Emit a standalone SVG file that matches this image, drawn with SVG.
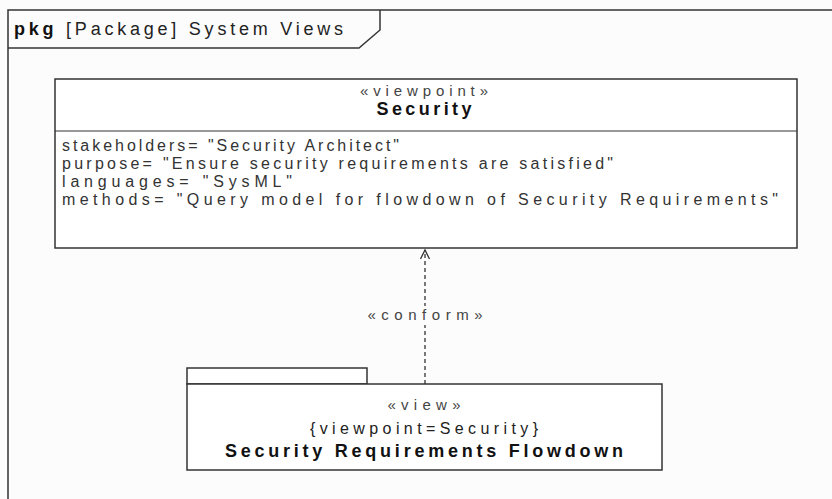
<svg xmlns="http://www.w3.org/2000/svg" width="832" height="499" viewBox="0 0 832 499">
<style>
  text { font-family: "Liberation Sans", Arial, sans-serif; fill: #222; }
  .box { fill: #fff; stroke: #333; stroke-width: 1.5; }
  .st { font-size: 15px; text-anchor: middle; fill: #444; }
  .nm { font-size: 18px; font-weight: bold; text-anchor: middle; fill: #111; }
  .attr { font-size: 16px; fill: #333; }
  .dep { fill: none; stroke: #333; stroke-width: 1.3; stroke-dasharray: 4 3; }
</style>
<defs>
  <marker id="open" markerWidth="12" markerHeight="12" refX="10" refY="5" orient="auto" markerUnits="userSpaceOnUse">
    <path d="M1,0.5 L10,5 L1,9.5" fill="none" stroke="#333" stroke-width="1.3"/>
  </marker>
</defs>
<rect width="832" height="499" fill="#fcfcfc"/>
<g id="frame">
  <rect x="8" y="10" width="840" height="500" fill="none" stroke="#333" stroke-width="1.5"/>
  <path d="M8,48 L359,48 L380,30 L380,10" fill="none" stroke="#333" stroke-width="1.5"/>
  <text x="14" y="35" font-size="18" fill="#555" textLength="329" lengthAdjust="spacing"><tspan font-weight="bold" fill="#111">pkg</tspan> [Package] System Views</text>
</g>
<g id="security">
  <rect class="box" x="55" y="79" width="742" height="169"/>
  <line x1="55" y1="131" x2="797" y2="131" stroke="#333" stroke-width="1.2"/>
  <text class="st" x="424" y="96" textLength="128" lengthAdjust="spacing">«viewpoint»</text>
  <text class="nm" x="424" y="115" textLength="95" lengthAdjust="spacing">Security</text>
  <text class="attr" x="62" y="151" textLength="337" lengthAdjust="spacing">stakeholders= "Security Architect"</text>
  <text class="attr" x="62" y="169" textLength="551" lengthAdjust="spacing">purpose= "Ensure security requirements are satisfied"</text>
  <text class="attr" x="62" y="187" textLength="230" lengthAdjust="spacing">languages= "SysML"</text>
  <text class="attr" x="62" y="205" textLength="716" lengthAdjust="spacing">methods= "Query model for flowdown of Security Requirements"</text>
</g>
<g id="connectors">
  <line class="dep" x1="425" y1="384" x2="425" y2="250" marker-end="url(#open)"/>
  <rect x="360" y="306" width="118" height="19" fill="#fcfcfc"/>
  <text class="st" x="425" y="320" textLength="115" lengthAdjust="spacing">«conform»</text>
</g>
<g id="flowdown">
  <rect class="box" x="187" y="368" width="180" height="16"/>
  <rect class="box" x="187" y="384" width="475" height="86"/>
  <text class="st" x="424" y="410" textLength="73" lengthAdjust="spacing">«view»</text>
  <text x="424" y="434" font-size="16" text-anchor="middle" fill="#333" textLength="228" lengthAdjust="spacing">{viewpoint=Security}</text>
  <text class="nm" x="424" y="457" textLength="398" lengthAdjust="spacing">Security Requirements Flowdown</text>
</g>
</svg>
